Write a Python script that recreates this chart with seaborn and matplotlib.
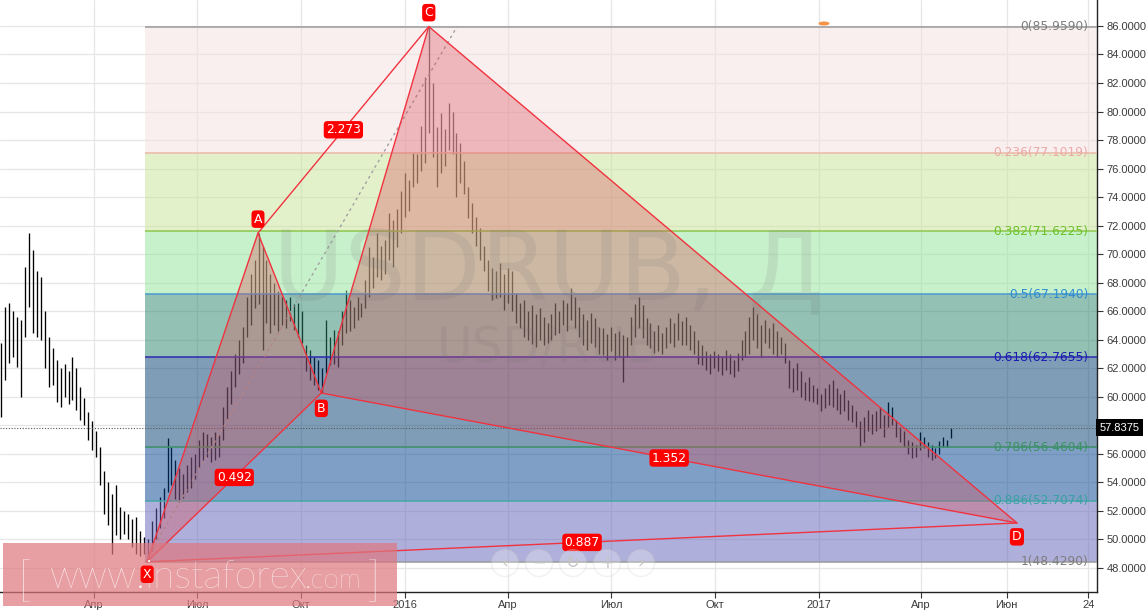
import numpy as np
import pandas as pd
import matplotlib
matplotlib.use('Agg')
import matplotlib.pyplot as plt
import matplotlib.dates as mdates
import matplotlib.transforms as mtrans
from matplotlib.patches import Polygon, Rectangle, Ellipse
import seaborn as sns

# USDRUB daily, sampled twice a week: high / low
bar_high = [63.8, 66.3, 66.6, 66.0, 65.6, 65.4, 69.1, 71.5, 70.3, 68.8,
            68.4, 66.0, 64.2, 63.4, 62.6, 62.0, 62.3, 61.8, 62.8, 62.0,
            60.7, 59.9, 58.9, 58.3, 57.6, 56.5, 54.8, 54.0, 53.2, 53.8,
            52.3, 52.0, 51.8, 51.4, 51.6, 50.6, 50.2, 50.0, 51.3, 52.2,
            53.0, 53.6, 57.1, 56.5, 55.6, 55.0, 54.6, 55.2, 55.8, 56.0,
            57.0, 57.5, 57.4, 57.2, 57.5, 57.3, 59.3, 60.7, 61.8, 63.0,
            64.0, 64.9, 67.0, 68.6, 69.6, 71.48, 70.5, 69.6, 68.6, 68.0,
            67.4, 67.0, 66.8, 67.0, 66.5, 66.6, 66.0, 63.6, 63.3, 62.8,
            62.6, 62.0, 65.4, 64.2, 64.7, 64.6, 66.0, 67.5, 66.8, 66.3,
            67.0, 66.6, 68.2, 70.5, 69.8, 71.5, 70.6, 71.0, 72.9, 72.4,
            73.2, 74.4, 75.7, 75.2, 77.1, 77.0, 79.0, 82.4, 85.96, 82.0,
            78.9, 79.9, 78.8, 80.6, 80.0, 78.5, 77.8, 76.5, 74.7, 73.6,
            72.6, 71.8, 70.6, 69.6, 69.0, 68.8, 69.4, 68.6, 69.0, 68.8,
            67.3, 66.6, 66.8, 66.0, 66.4, 65.8, 66.2, 65.6, 65.2, 65.8,
            66.6, 66.0, 66.8, 66.6, 67.6, 67.0, 66.3, 65.8, 65.4, 65.9,
            65.5, 64.9, 64.8, 64.4, 64.9, 64.5, 64.6, 64.3, 64.2, 65.6,
            66.5, 67.0, 66.4, 65.5, 65.2, 64.6, 65.0, 64.5, 64.9, 65.5,
            65.2, 65.9, 65.3, 65.6, 65.0, 64.6, 64.0, 63.6, 63.2, 63.0,
            63.2, 63.0, 62.8, 63.3, 63.0, 62.6, 63.1, 64.0, 64.6, 65.6,
            66.3, 65.8, 65.0, 65.4, 64.8, 65.2, 64.6, 64.2, 63.8, 62.6,
            62.0, 62.4, 61.8, 61.0, 61.4, 60.8, 60.6, 60.2, 60.6, 60.9,
            61.2, 60.6, 60.2, 60.5, 59.8, 59.4, 59.0, 58.3, 58.6, 59.1,
            58.8, 59.0, 59.3, 58.7, 59.6, 59.3, 58.4, 57.9, 57.6, 57.0,
            56.8, 56.6, 57.5, 57.2, 56.8, 56.6, 56.4, 56.9, 57.2, 57.0,
            57.84]
bar_low = [58.6, 61.2, 62.4, 62.8, 62.1, 60.0, 64.2, 66.3, 64.5, 64.2,
           64.0, 62.0, 60.7, 60.8, 59.6, 59.3, 60.0, 59.5, 59.8, 59.1,
           58.4, 58.0, 57.0, 56.3, 55.8, 53.8, 51.8, 51.0, 49.0, 50.3,
           50.0, 50.4, 50.0, 49.5, 49.0, 48.8, 49.0, 48.43, 49.2, 50.0,
           50.8, 51.5, 53.3, 53.8, 52.8, 52.6, 52.9, 53.3, 53.6, 54.2,
           55.0, 55.6, 55.8, 55.4, 55.6, 55.8, 57.0, 58.4, 59.5, 60.7,
           61.6, 62.4, 64.2, 65.0, 66.2, 66.5, 63.3, 65.2, 64.5, 65.0,
           64.6, 65.0, 64.8, 65.3, 64.7, 64.2, 63.8, 61.8, 61.2, 60.8,
           60.5, 60.26, 61.7, 62.2, 62.3, 62.1, 63.6, 64.5, 64.6, 64.8,
           65.4, 65.6, 66.2, 67.0, 67.6, 68.4, 68.2, 68.6, 69.6, 69.1,
           70.5, 71.5, 72.6, 73.0, 74.7, 75.0, 75.8, 76.4, 78.5, 76.8,
           74.7, 75.7, 76.2, 77.3, 77.0, 74.0, 75.0, 74.2, 72.5, 71.5,
           70.6, 69.6, 68.8, 67.4, 66.8, 66.9, 67.0, 66.1, 66.6, 66.0,
           65.2, 64.8, 64.2, 64.0, 63.7, 63.5, 64.0, 63.6, 63.8, 64.0,
           64.3, 64.5, 65.0, 64.6, 65.4, 64.8, 64.2, 63.6, 63.3, 63.8,
           63.5, 63.0, 62.9, 62.6, 63.2, 62.6, 62.8, 61.0, 62.8, 63.6,
           64.2, 64.8, 64.1, 63.6, 63.4, 63.1, 63.2, 63.0, 63.4, 63.8,
           63.5, 64.0, 63.6, 63.6, 63.3, 63.0, 62.3, 62.2, 61.9, 61.6,
           62.0, 61.8, 61.5, 61.9, 61.6, 61.4, 61.8, 62.6, 62.8, 63.0,
           64.0, 63.4, 62.8, 63.8, 63.4, 63.0, 62.8, 63.0, 62.4, 60.6,
           60.3, 60.5, 60.0, 59.8, 59.7, 59.6, 59.5, 59.0, 59.2, 59.4,
           59.3, 59.1, 58.8, 59.0, 58.4, 58.2, 57.9, 56.5, 56.8, 57.6,
           57.4, 57.6, 57.8, 57.2, 57.9, 58.0, 57.2, 56.8, 56.5, 56.0,
           55.7, 55.8, 56.3, 56.4, 55.8, 55.6, 55.7, 56.0, 56.5, 56.5,
           57.1]
last_price = 57.8375

# fibonacci retracement X -> C
fib_ratios = ['0', '0.236', '0.382', '0.5', '0.618', '0.786', '0.886', '1']
fib_prices = [85.9590, 77.1019, 71.6225, 67.1940, 62.7655, 56.4604, 52.7074, 48.4290]
fib_start = '2015-05-16'
fib_anchor_end = '2016-02-16'

# harmonic pattern
pt_names = ['X', 'A', 'B', 'C', 'D']
pt_dates = ['2015-05-18', '2015-08-24', '2015-10-19', '2016-01-22', '2017-06-25']
pt_prices = [48.429, 71.48, 60.26, 85.959, 51.15]
ratio_legs = [('A', 'C'), ('X', 'B'), ('B', 'D'), ('X', 'D')]
ratio_text = ['2.273', '0.492', '1.352', '0.887']

xtick_dates = ['2015-04-01', '2015-07-01', '2015-10-01', '2016-01-01', '2016-04-01',
               '2016-07-01', '2016-10-01', '2017-01-01', '2017-04-01', '2017-06-16', '2017-08-27']
xtick_labels = ['Апр', 'Июл', 'Окт', '2016', 'Апр', 'Июл', 'Окт', '2017', 'Апр', 'Июн', '24']

# styles
fib_fill = ['#f7e1e1', '#c9e599', '#91e599', '#298569', '#003d71', '#004191', '#6161b9']
fib_line = ['#9a9a9a', '#ebb8a8', '#8cc84b', '#4a9bd0', '#2b2bb0', '#3a8f66', '#45a8a8', '#9a9a9a']
fib_txt = ['#7d7d7d', '#eba9a9', '#6cc22a', '#2f8bd0', '#1b1bb0', '#3a9163', '#3aa1a1', '#7d7d7d']
red = '#f0333f'

sns.set_theme(style='white')
plt.rcParams['font.family'] = ['Liberation Sans', 'DejaVu Sans']

W, H = 1146, 612
fig = plt.figure(figsize=(W / 100, H / 100), dpi=100)
ax = fig.add_axes([0, 20 / H, 1097 / W, 592 / H])

jan16 = mdates.date2num(pd.Timestamp('2016-01-01'))
x_left, x_right = jan16 - 358.1, jan16 + 611.8
ax.set_xlim(x_left, x_right)
ax.set_ylim(46.31, 87.82)

# bars
bar_dates = pd.date_range('2015-01-09', periods=len(bar_high), freq='84h')
ax.vlines(mdates.date2num(bar_dates), bar_low, bar_high, color='black', lw=0.95, zorder=1)

# fib bands
f0 = mdates.date2num(pd.Timestamp(fib_start))
f1 = x_right + 10
for k in range(len(fib_prices) - 1):
    ax.fill_between([f0, f1], fib_prices[k + 1], fib_prices[k], color=fib_fill[k],
                    alpha=0.5, lw=0, zorder=2)
yblend = mtrans.blended_transform_factory(ax.transAxes, ax.transData)
for k, (r, p) in enumerate(zip(fib_ratios, fib_prices)):
    ax.hlines(p, f0, f1, color=fib_line[k], lw=1.1, zorder=3)
    ax.text(0.992, p, f'{r}({p:.4f})', transform=yblend, ha='right', va='center',
            color=fib_txt[k], fontsize=8.8, family='DejaVu Sans', zorder=9)
ax.plot([f0, mdates.date2num(pd.Timestamp(fib_anchor_end))], [fib_prices[-1], fib_prices[0]],
        color='#a0a0a0', lw=1, ls=(0, (2, 2.5)), zorder=3)

# pattern
px = dict(zip(pt_names, mdates.date2num(pd.to_datetime(pt_dates))))
py = dict(zip(pt_names, pt_prices))
for tri in [('X', 'A', 'B'), ('B', 'C', 'D')]:
    ax.add_patch(Polygon([(px[n], py[n]) for n in tri], closed=True, fc='#d9505a',
                         alpha=0.35, lw=0, zorder=4))

ax.text(0.4995, 1 - 300 / 592, 'USDRUB, Д', transform=ax.transAxes, ha='center',
        va='baseline', fontsize=70, color='#777777', alpha=0.15, family='DejaVu Sans', zorder=4.5)
ax.text(0.4995, 1 - 362 / 592, 'USD/RUB', transform=ax.transAxes, ha='center',
        va='baseline', fontsize=35, color='#777777', alpha=0.15, family='DejaVu Sans', zorder=4.5)

zig = pd.DataFrame({'date': [px[n] for n in pt_names], 'price': pt_prices})
sns.lineplot(data=zig, x='date', y='price', sort=False, color=red, lw=1, ax=ax, zorder=6)
for (a, b), t in zip(ratio_legs, ratio_text):
    ax.plot([px[a], px[b]], [py[a], py[b]], color=red, lw=1, zorder=6)
    ax.text((px[a] + px[b]) / 2, (py[a] + py[b]) / 2, t, ha='center', va='center',
            color='white', fontsize=8.8, family='DejaVu Sans', zorder=9,
            bbox=dict(boxstyle='round,pad=0.18,rounding_size=0.3', fc='#ff0000', ec='none'))
offsets = {'A': 10, 'B': -11, 'C': 10, 'D': -10}
for n in ['A', 'B', 'C', 'D']:
    ax.annotate(n, (px[n], py[n]), xytext=(0, offsets[n]), textcoords='offset points',
                ha='center', va='center', color='white', fontsize=9, family='DejaVu Sans',
                zorder=10, annotation_clip=False,
                bbox=dict(boxstyle='round,pad=0.18,rounding_size=0.3', fc='#ff0000', ec='none'))

# last price (its tag hides the 58 label, as in the terminal)
ax.axhline(last_price, color='#555555', lw=0.8, ls=(0, (1, 1.5)), zorder=3.5)
ax.text(1.002, last_price, f'{last_price:.4f}', transform=yblend, ha='left', va='center',
        color='white', fontsize=8, clip_on=False, zorder=10,
        bbox=dict(boxstyle='square,pad=0.3', fc='black', ec='none'))

# axes styling
ax.yaxis.tick_right()
ax.set_yticks(np.arange(48, 87, 2))
ax.yaxis.set_major_formatter(matplotlib.ticker.FuncFormatter(
    lambda v, pos: '' if abs(v - 58) < 0.01 else f'{v:.4f}'))
ax.set_xticks(mdates.date2num(pd.to_datetime(xtick_dates)))
ax.set_xticklabels(xtick_labels)
ax.tick_params(axis='both', labelsize=8, labelcolor='#3c3c3c', length=4, width=0.8,
               color='#333333', direction='out')
ax.tick_params(axis='y', pad=3, right=True)
ax.tick_params(axis='x', pad=2, bottom=True)
ax.set_xlabel('')
ax.set_ylabel('')
for s in ['top', 'left']:
    ax.spines[s].set_visible(False)
for s in ['right', 'bottom']:
    ax.spines[s].set_color('#222222')
    ax.spines[s].set_linewidth(1)
ax.grid(True, color='#e6e6e6', lw=0.9)
ax.set_axisbelow(True)

# event marker on top
fig.add_artist(Ellipse((824 / W, 1 - 23.5 / H), 11 / W, 4 / H, fc='#f59245', ec='none'))

# navigation buttons
for cx, sym in zip([505, 539, 573, 607, 641], ['‹', '−', '↻', '+', '›']):
    fig.add_artist(Ellipse((cx / W, 1 - 563 / H), 27 / W, 27 / H, fc='white', alpha=0.25,
                           ec='#c8c8c8', lw=1))
    fig.text(cx / W, 1 - 563 / H, sym, ha='center', va='center', fontsize=12,
             color='#c4c4c4', family='DejaVu Sans')

# instaforex logo
ax.add_patch(Rectangle((3 / W, 1 - 606 / H), 394 / W, 63 / H, transform=fig.transFigure,
                       fc='#de777e', alpha=0.7, lw=0, zorder=8, clip_on=False))
logo = dict(transform=fig.transFigure, color='white', clip_on=False, zorder=8.5,
            family='Lato', fontweight='light', va='baseline')
ax.text(18 / W, 1 - 596 / H, '[', fontsize=34, **logo)
ax.text(50 / W, 1 - 588 / H, 'www.instaforex', fontsize=28, **logo)
ax.text(305 / W, 1 - 588 / H, '.com', fontsize=20, **logo)
ax.text(366 / W, 1 - 596 / H, ']', fontsize=34, **logo)
# X label sits above the logo
ax.annotate('X', (px['X'], py['X']), xytext=(0, -9), textcoords='offset points',
            ha='center', va='center', color='white', fontsize=9, family='DejaVu Sans',
            zorder=11, annotation_clip=False,
            bbox=dict(boxstyle='round,pad=0.18,rounding_size=0.3', fc='#ff0000', ec='none'))

fig.savefig('out.png', dpi=100)
